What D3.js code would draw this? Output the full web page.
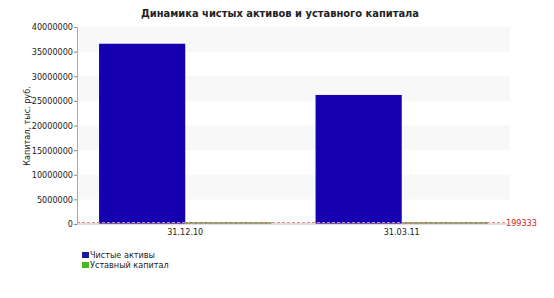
<!DOCTYPE html>
<html><head><meta charset="utf-8">
<script src="https://cdn.jsdelivr.net/npm/d3@7"></script>
<style>body{margin:0;background:#fff}svg{display:block}text{font-family:"DejaVu Sans Condensed","DejaVu Sans",sans-serif;font-stretch:condensed}</style>
</head><body>
<script>
const categories = ["31.12.10", "31.03.11"];
const seriesNames = ["Чистые активы", "Уставный капитал"];
const netAssets = [36600000, 26200000];
const charterCapital = [199333, 199333];
const yTicks = [0, 5000000, 10000000, 15000000, 20000000, 25000000, 30000000, 35000000, 40000000];
const markerValue = 199333;
const title = "Динамика чистых активов и уставного капитала";
const yTitle = "Капитал, тыс. руб.";

const W = 554, H = 298;
const svg = d3.select("body").append("svg").attr("width", W).attr("height", H);
const L = 77, R = 510, T = 27, B = 224;
const x = d3.scaleBand().domain(categories).range([L, R]).paddingInner(0).paddingOuter(0);
const y = d3.scaleLinear().domain([0, 40000000]).range([B, T]);
const inner = d3.scaleBand().domain(seriesNames).range([0, x.bandwidth()]).paddingInner(0).paddingOuter(0.256);

// bands
for (let i = 0; i < yTicks.length - 1; i++) {
  if (i % 2 === 1) svg.append("rect").attr("x", L).attr("width", R - L)
    .attr("y", y(yTicks[i + 1])).attr("height", y(yTicks[i]) - y(yTicks[i + 1])).attr("fill", "#f8f8f8");
}

const colors = ["#1500b0", "#6a9040"];
const data = [netAssets, charterCapital];
categories.forEach((c, ci) => {
  seriesNames.forEach((s, si) => {
    const v = data[si][ci];
    const h = Math.max(2, B - y(v));
    svg.append("rect").attr("x", x(c) + inner(s)).attr("width", inner.bandwidth())
      .attr("y", B - h).attr("height", h).attr("fill", colors[si]);
  });
});

// marker line
svg.append("line").attr("x1", L).attr("x2", 506).attr("y1", y(markerValue) - 0.5).attr("y2", y(markerValue) - 0.5)
  .attr("stroke", "#e88a8a").attr("stroke-width", 1).attr("stroke-dasharray", "3,2");
svg.append("text").attr("x", 506).attr("y", y(markerValue) + 3).attr("fill", "#d02020")
  .attr("font-size", 9).text(String(markerValue));

// axes
const ya = svg.append("g").attr("transform", `translate(${L},0)`)
  .call(d3.axisLeft(y).tickValues(yTicks).tickFormat(d3.format("d")).tickSize(3).tickSizeOuter(0));
ya.select(".domain").attr("stroke", "#aaa");
ya.selectAll(".tick line").attr("stroke", "#888");
ya.selectAll("text").attr("font-size", 9).attr("fill", "#222").attr("x", -4);

const xa = svg.append("g").attr("transform", `translate(0,${B})`);
xa.append("line").attr("x1", L).attr("x2", R).attr("stroke", "#bbb");
categories.forEach(c => {
  xa.append("text").attr("x", x(c) + x.bandwidth() / 2).attr("y", 11).attr("text-anchor", "middle")
    .attr("font-size", 9).attr("fill", "#222").text(c);
});

svg.append("text").attr("x", 280).attr("y", 17).attr("text-anchor", "middle")
  .attr("font-size", 11).attr("font-weight", "bold").attr("fill", "#222").text(title);
svg.append("text").attr("transform", "translate(30,126) rotate(-90)").attr("text-anchor", "middle")
  .attr("font-size", 9).attr("fill", "#222").text(yTitle);

// legend
seriesNames.forEach((s, i) => {
  svg.append("rect").attr("x", 82).attr("y", 252 + i * 10).attr("width", 7).attr("height", 6)
    .attr("fill", ["#1a1aa0", "#44bb22"][i]);
  svg.append("text").attr("x", 90).attr("y", 258 + i * 10).attr("font-size", 9).attr("fill", "#222").text(s);
});
</script>
</body></html>
